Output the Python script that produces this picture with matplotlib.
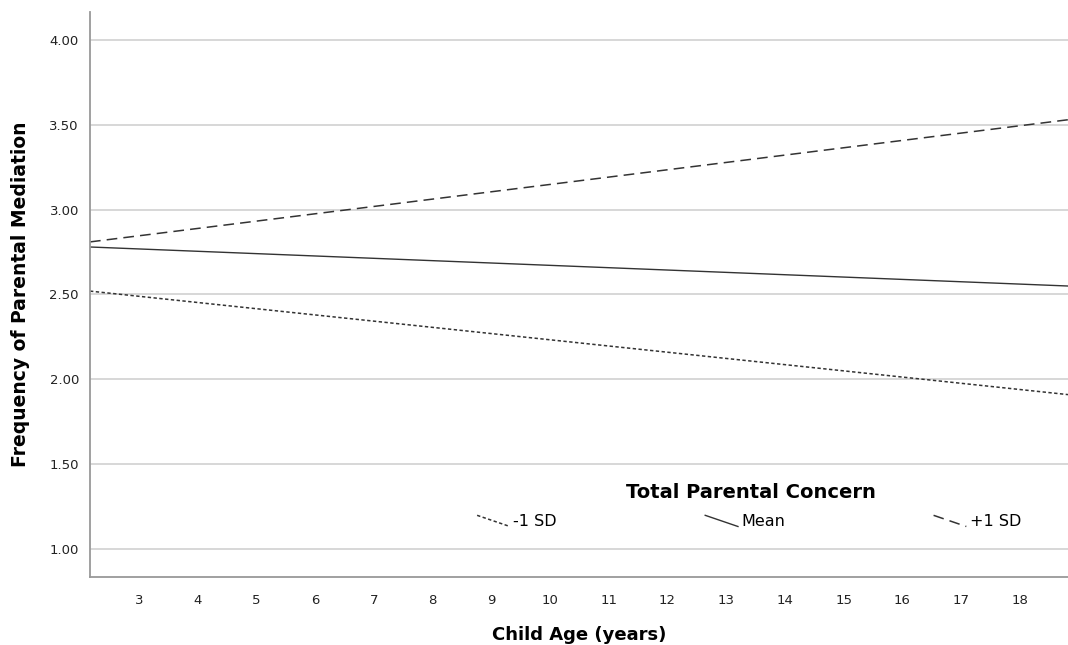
import matplotlib
matplotlib.use("Agg")
import matplotlib.pyplot as plt
from matplotlib.legend_handler import HandlerLine2D
from matplotlib.lines import Line2D

# Simple slopes of parental mediation on child age
age_range = [2.17, 18.82]
series_labels = ["-1 SD", "Mean", "+1 SD"]
low_sd = [2.52, 1.91]
mean_vals = [2.78, 2.55]
high_sd = [2.81, 3.53]
y_ticks = [1.00, 1.50, 2.00, 2.50, 3.00, 3.50, 4.00]
x_ticks = list(range(3, 19))

plt.rcParams['font.family'] = ['DejaVu Sans']

fig = plt.figure(figsize=(10.68, 6.45), dpi=100)
ax = fig.add_axes([90 / 1068, 1 - 577 / 645, 1 - 90 / 1068, (577 - 12) / 645])

line_color = "#333333"
styles = [
    dict(linestyle=(0, (2.2, 1.6)), linewidth=1.1),
    dict(linestyle="-", linewidth=1.0),
    dict(linestyle=(0, (7, 4)), linewidth=1.1),
]
handles = []
for vals, lab, st in zip([low_sd, mean_vals, high_sd], series_labels, styles):
    h, = ax.plot(age_range, vals, color=line_color, label=lab, **st)
    handles.append(h)

ax.set_xlim(age_range)
ax.set_ylim(0.835, 4.165)
ax.set_xticks(x_ticks)
ax.set_xticklabels([str(t) for t in x_ticks])
ax.set_yticks(y_ticks)
ax.set_yticklabels([f"{t:.2f}" for t in y_ticks])
ax.tick_params(length=0, labelsize=9.5, colors="#222222", pad=8)
ax.tick_params(axis="x", pad=12)
ax.grid(axis="y", color="#d4d4d4", linewidth=1.3)
ax.set_axisbelow(True)
for s in ["top", "right"]:
    ax.spines[s].set_visible(False)
for s in ["left", "bottom"]:
    ax.spines[s].set_color("#999999")
    ax.spines[s].set_linewidth(1.3)

ax.set_xlabel("Child Age (years)", fontsize=13, fontweight="bold", labelpad=14)
ax.set_ylabel("Frequency of Parental Mediation", fontsize=13.5, fontweight="bold", labelpad=14)


class SlantedLineHandler(HandlerLine2D):
    def create_artists(self, legend, orig_handle, xdescent, ydescent,
                       width, height, fontsize, trans):
        line = Line2D([-xdescent, -xdescent + width],
                      [-ydescent + height * 1.0, -ydescent + height * 0.0])
        self.update_prop(line, orig_handle, legend)
        line.set_transform(trans)
        return [line]


fig.text(751 / 1068, 1 - 493 / 645, "Total Parental Concern",
         fontsize=14, fontweight="bold", ha="center", va="center")

leg = fig.legend(handles=handles, labels=series_labels, ncol=3,
                 frameon=False, fontsize=11.5,
                 handlelength=2.05, handletextpad=0.2, columnspacing=9.3,
                 loc="center", bbox_to_anchor=(749 / 1068, 1 - 522 / 645),
                 borderpad=0, borderaxespad=0,
                 handler_map={Line2D: SlantedLineHandler()})

fig.savefig("out.png", dpi=100)
